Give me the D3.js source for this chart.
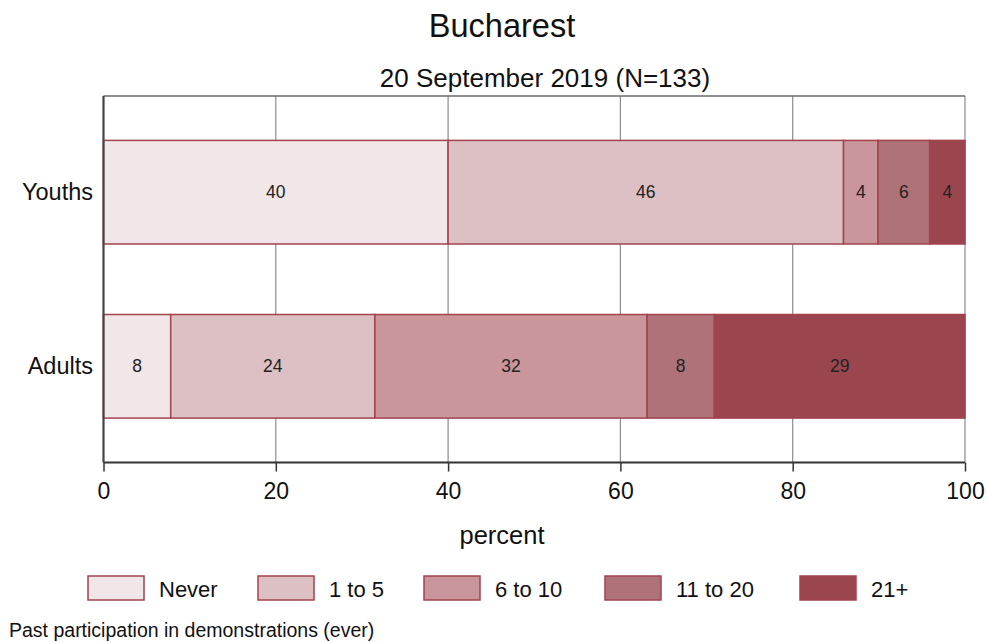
<!DOCTYPE html>
<html><head><meta charset="utf-8">
<script src="https://cdn.jsdelivr.net/npm/d3@7"></script>
<style>body{margin:0;background:#fff}svg{display:block;font-family:"Liberation Sans",Arial,sans-serif}</style>
</head><body><div id="chart"></div>
<script>
const categories = ["Youths", "Adults"];
const seriesNames = ["Never", "1 to 5", "6 to 10", "11 to 20", "21+"];
const youthsValues = [40, 45.9, 4.0, 6.0, 4.1];
const adultsValues = [7.8, 23.7, 31.6, 7.8, 29.1];
const xTicks = [0, 20, 40, 60, 80, 100];
const colors = ["#f2e7e8", "#dcc0c4", "#c9969b", "#b07279", "#9b464e"];

const W = 987, H = 642;
const svg = d3.select("#chart").append("svg").attr("width", W).attr("height", H);
const L = 103.5, R = 965, T = 96, B = 462.5;
const x = d3.scaleLinear().domain([0, 100]).range([L, R]);
const y = d3.scaleBand().domain(categories).range([T, B]).paddingInner(0.405).paddingOuter(0.255);

const rows = [youthsValues, adultsValues];

// title
svg.append("text").attr("x", 502).attr("y", 37).attr("text-anchor", "middle").attr("font-size", 32.5).attr("fill", "#111").text("Bucharest");
svg.append("text").attr("x", 545).attr("y", 87).attr("text-anchor", "middle").attr("font-size", 26).attr("fill", "#111").text("20 September 2019 (N=133)");

// grid
svg.append("g").selectAll("line").data(xTicks.slice(1)).join("line")
  .attr("x1", d => x(d)).attr("x2", d => x(d)).attr("y1", T).attr("y2", B)
  .attr("stroke", "#8c8c8c").attr("stroke-width", 1.2);
svg.append("line").attr("x1", L).attr("x2", R).attr("y1", T).attr("y2", T).attr("stroke", "#6b6b6b").attr("stroke-width", 1.5);

// bars
categories.forEach((c, i) => {
  const vals = rows[i];
  let cum = 0;
  const segs = vals.map((v, j) => { const s = {x0: cum, x1: cum + v, v, j}; cum += v; return s; });
  const g = svg.append("g");
  g.selectAll("rect").data(segs).join("rect")
    .attr("x", d => x(d.x0)).attr("width", d => x(d.x1) - x(d.x0))
    .attr("y", y(c)).attr("height", y.bandwidth())
    .attr("fill", d => colors[d.j]).attr("stroke", "#a3434e").attr("stroke-width", 1.5);
  g.selectAll("text").data(segs).join("text")
    .attr("x", d => (x(d.x0) + x(d.x1)) / 2).attr("y", y(c) + y.bandwidth() / 2 + 6)
    .attr("text-anchor", "middle").attr("font-size", 17.5).attr("fill", "#222")
    .text(d => Math.round(d.v));
  svg.append("text").attr("x", 93).attr("y", y(c) + y.bandwidth() / 2 + 8)
    .attr("text-anchor", "end").attr("font-size", 23.5).attr("fill", "#111").text(c);
});

// axes
const ax = svg.append("g").attr("transform", `translate(0,${B})`)
  .call(d3.axisBottom(x).tickValues(xTicks).tickSize(9).tickPadding(11).tickFormat(d3.format("d")));
ax.select(".domain").attr("stroke", "#333").attr("stroke-width", 2.2).attr("d", `M${L},0H${R}`);
ax.selectAll(".tick line").attr("stroke", "#333").attr("stroke-width", 1.5);
ax.selectAll(".tick text").attr("font-size", 23).attr("fill", "#111").attr("font-family", "Liberation Sans, Arial, sans-serif");
svg.append("line").attr("x1", L).attr("x2", L).attr("y1", T).attr("y2", B).attr("stroke", "#444").attr("stroke-width", 2.2);

svg.append("text").attr("x", 502).attr("y", 544).attr("text-anchor", "middle").attr("font-size", 25.5).attr("fill", "#111").text("percent");

// legend
const legX = [88, 258, 424, 605, 800];
const lg = svg.append("g");
seriesNames.forEach((s, i) => {
  lg.append("rect").attr("x", legX[i]).attr("y", 576).attr("width", 56).attr("height", 24)
    .attr("fill", colors[i]).attr("stroke", "#a3434e").attr("stroke-width", 1.5);
  lg.append("text").attr("x", legX[i] + 71).attr("y", 597).attr("font-size", 22).attr("fill", "#111").text(s);
});

svg.append("text").attr("x", 9).attr("y", 637).attr("font-size", 19.5).attr("fill", "#111").text("Past participation in demonstrations (ever)");
</script></body></html>
